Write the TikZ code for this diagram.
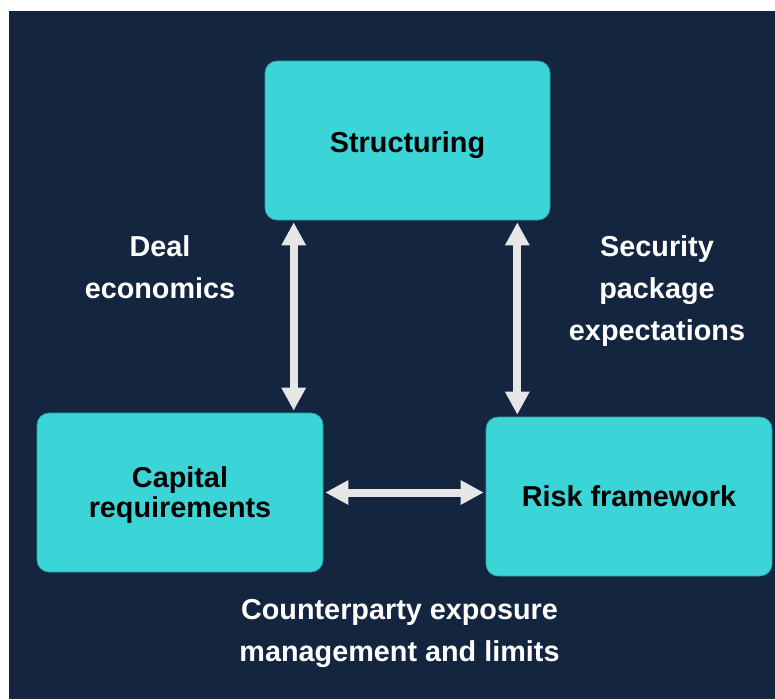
\documentclass[tikz,border=0pt]{standalone}
\usepackage{fontspec}
\setmainfont{Liberation Sans}
\usetikzlibrary{positioning, arrows.meta, calc}
\definecolor{navy}{HTML}{14263F}
\definecolor{tealbox}{HTML}{3CD5D7}
\definecolor{arrowgray}{HTML}{E6E6E6}

\begin{document}
\begin{tikzpicture}[x=1pt, y=1pt,
  box/.style={rectangle, rounded corners=12pt, fill=tealbox, draw=tealbox!75!black,
    line width=0.6pt, minimum width=286pt, minimum height=159pt, inner sep=0pt,
    align=center, text=black, font=\fontsize{28.8}{30}\selectfont\bfseries},
  lbl/.style={align=center, text=white, font=\fontsize{28.8}{42}\selectfont\bfseries},
  link/.style={draw=arrowgray, line width=8pt,
    {Triangle[width=23pt,length=23pt]}-{Triangle[width=23pt,length=23pt]},
    shorten <=2pt, shorten >=2pt}]
% background %
\useasboundingbox (0,0) rectangle (775,-699);
\fill[navy] (9,-11) rectangle (775,-699);
% nodes %
\node[box, minimum width=285pt, text height=23pt, text depth=0pt] (struct) at (407.5,-140.5) {Structuring};
\node[box, text depth=-2pt] (capital) at (180,-492.5) {Capital\\requirements};
\node[box] (risk) at (629,-496.5) {Risk framework};
% labels %
\node[lbl] (deal) at (160,-267) {Deal\\economics};
\node[lbl] (security) at (657,-291) {Security\\package\\expectations};
\node[lbl] (counter) at (399.5,-633) {Counterparty exposure\\management and limits};
% edges %
\coordinate (ltop) at ([xshift=29pt]struct.south west);
\coordinate (rtop) at ([xshift=-33pt]struct.south east);
\draw[link] (ltop) -- (ltop |- capital.north);
\draw[link] (rtop) -- (rtop |- risk.north);
\draw[link] (capital.east) -- (capital.east -| risk.west);
\end{tikzpicture}
\end{document}
